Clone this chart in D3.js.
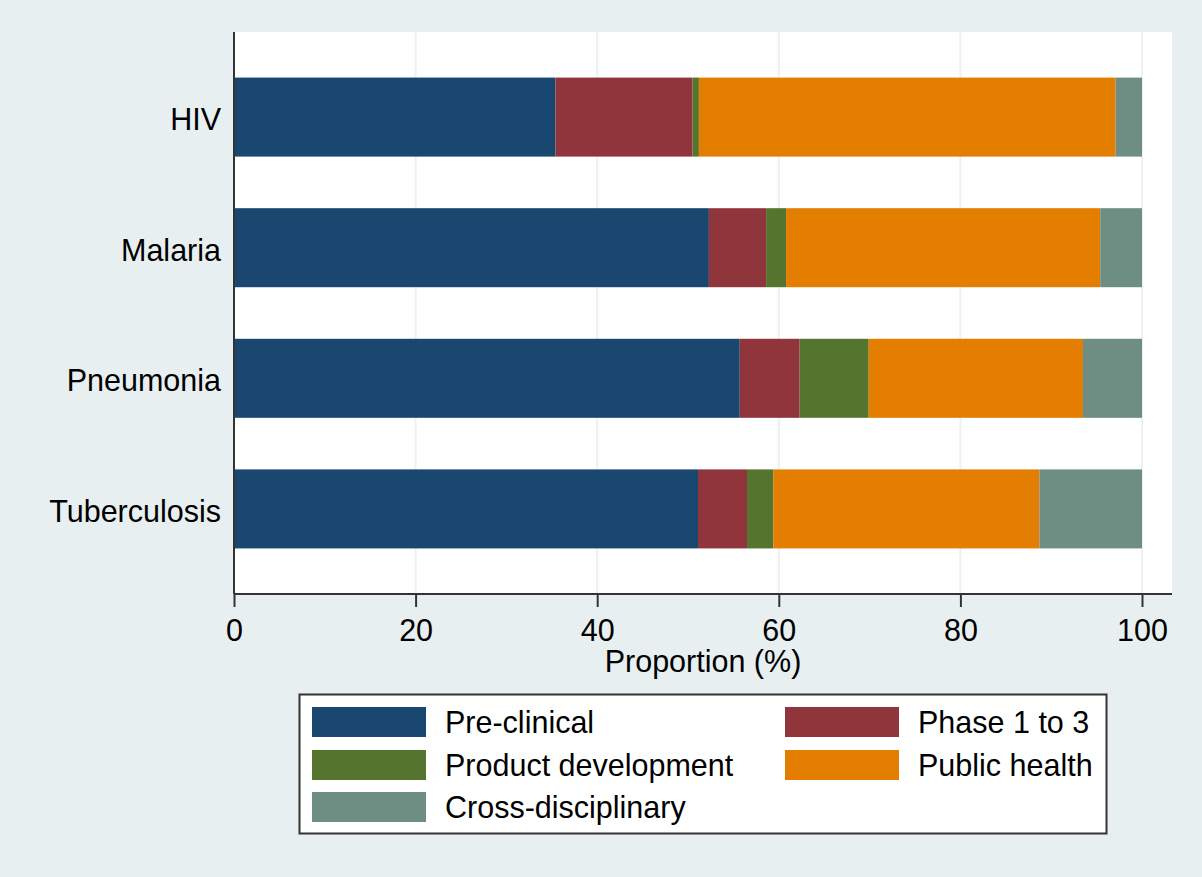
<!DOCTYPE html>
<html>
<head>
<meta charset="utf-8">
<script src="https://cdn.jsdelivr.net/npm/d3@7"></script>
<style>
  html, body { margin: 0; padding: 0; background: #e8eff1; }
  svg { display: block; }
  text { font-family: "Liberation Sans", Arial, sans-serif; fill: #000; }
</style>
</head>
<body>
<svg id="chart" width="1202" height="877"></svg>
<script>
// Research funding by stage, share of each disease's total (%)
const diseases = ["HIV", "Malaria", "Pneumonia", "Tuberculosis"];
const stages = ["Pre-clinical", "Phase 1 to 3", "Product development", "Public health", "Cross-disciplinary"];
const preClinical = [35.4, 52.3, 55.7, 51.1];
const phase1to3 = [15.1, 6.3, 6.6, 5.4];
const productDevelopment = [0.7, 2.2, 7.6, 2.9];
const publicHealth = [45.9, 34.6, 23.6, 29.3];
const crossDisciplinary = [2.9, 4.6, 6.5, 11.3];
const xTicks = [0, 20, 40, 60, 80, 100];
const stageColors = ["#1a476f", "#90353b", "#55752f", "#e37e00", "#6e8e84"];

const FONT_SIZE = 30.5;

const seriesValues = [preClinical, phase1to3, productDevelopment, publicHealth, crossDisciplinary];
const rows = diseases.map((d, i) => {
  const r = { disease: d };
  stages.forEach((s, k) => { r[s] = seriesValues[k][i]; });
  return r;
});

const svg = d3.select("#chart");
const plot = { left: 234, right: 1172, top: 32, bottom: 594 };

// plot region
svg.append("rect")
  .attr("x", plot.left).attr("y", plot.top)
  .attr("width", plot.right - plot.left).attr("height", plot.bottom - plot.top)
  .attr("fill", "#ffffff");

const x = d3.scaleLinear().domain([0, 100]).range([plot.left, plot.left + 908]);
const y = d3.scaleBand().domain(diseases).range([plot.top, plot.bottom])
  .paddingInner(0.395).paddingOuter(0.349);
const color = d3.scaleOrdinal().domain(stages).range(stageColors);

// vertical grid
svg.append("g").selectAll("line")
  .data(xTicks.filter(t => t > 0))
  .join("line")
  .attr("x1", d => x(d)).attr("x2", d => x(d))
  .attr("y1", plot.top).attr("y2", plot.bottom)
  .attr("stroke", "#eaf2f3").attr("stroke-width", 2);

// stacked bars
const stacked = d3.stack().keys(stages)(rows);
svg.append("g").selectAll("g")
  .data(stacked)
  .join("g")
  .attr("fill", d => color(d.key))
  .selectAll("rect")
  .data(d => d)
  .join("rect")
  .attr("x", d => x(d[0]))
  .attr("y", d => y(d.data.disease))
  .attr("width", d => x(d[1]) - x(d[0]))
  .attr("height", y.bandwidth());

// x axis
const xAxis = svg.append("g")
  .attr("transform", `translate(0,${plot.bottom})`)
  .call(d3.axisBottom(x).tickValues(xTicks).tickSize(13).tickPadding(12).tickSizeOuter(0));
xAxis.select(".domain").remove();
xAxis.append("line")
  .attr("x1", plot.left).attr("x2", plot.right)
  .attr("stroke", "#333").attr("stroke-width", 2);
xAxis.selectAll(".tick line").attr("stroke", "#333").attr("stroke-width", 2);
xAxis.selectAll(".tick text")
  .attr("font-family", "Liberation Sans, Arial, sans-serif")
  .attr("font-size", FONT_SIZE).attr("fill", "#000");

// y axis
const yAxis = svg.append("g")
  .attr("transform", `translate(${plot.left},0)`)
  .call(d3.axisLeft(y).tickSize(0).tickPadding(13));
yAxis.select(".domain").remove();
yAxis.append("line")
  .attr("y1", plot.top).attr("y2", plot.bottom)
  .attr("stroke", "#333").attr("stroke-width", 2);
yAxis.selectAll(".tick text")
  .attr("font-family", "Liberation Sans, Arial, sans-serif")
  .attr("font-size", FONT_SIZE).attr("fill", "#000")
  .attr("dy", "0.42em");

// axis title
svg.append("text")
  .attr("x", (plot.left + plot.right) / 2).attr("y", 672)
  .attr("text-anchor", "middle")
  .attr("font-size", FONT_SIZE)
  .text("Proportion (%)");

// legend
const legend = svg.append("g");
legend.append("rect")
  .attr("x", 299.5).attr("y", 694.5).attr("width", 807).attr("height", 139)
  .attr("fill", "#fff").attr("stroke", "#333").attr("stroke-width", 2);
const legendPos = [
  { col: 0, row: 0 }, { col: 1, row: 0 },
  { col: 0, row: 1 }, { col: 1, row: 1 },
  { col: 0, row: 2 }
];
const colX = [312, 785];
const rowY = [707, 750, 792];
const items = legend.selectAll("g.item")
  .data(stages)
  .join("g")
  .attr("class", "item")
  .attr("transform", (d, i) => `translate(${colX[legendPos[i].col]},${rowY[legendPos[i].row]})`);
items.append("rect")
  .attr("width", 114).attr("height", 30)
  .attr("fill", d => color(d));
items.append("text")
  .attr("x", 133).attr("y", 15).attr("dy", "0.37em")
  .attr("font-size", FONT_SIZE)
  .text(d => d);
</script>
</body>
</html>
